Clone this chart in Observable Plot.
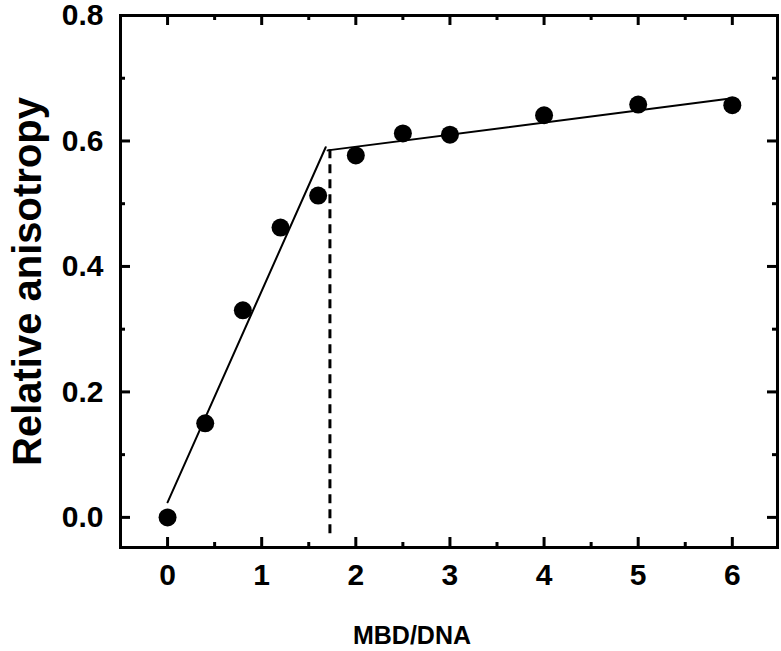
<!DOCTYPE html>
<html>
<head>
<meta charset="utf-8">
<script src="https://cdn.jsdelivr.net/npm/d3@7"></script>
<script src="https://cdn.jsdelivr.net/npm/@observablehq/plot@0.6"></script>
<style>
  body { margin: 0; background: #fff; }
</style>
</head>
<body>
<div id="chart"></div>
<script>
// Data
const ratio = [0, 0.4, 0.8, 1.2, 1.6, 2, 2.5, 3, 4, 5, 6];
const anisotropy = [0.0, 0.15, 0.33, 0.462, 0.513, 0.577, 0.612, 0.61, 0.641, 0.658, 0.657];
const fit1X = [0, 1.68];
const fit1Y = [0.024, 0.59];
const fit2X = [1.70, 6];
const fit2Y = [0.585, 0.668];
const breakX = [1.725];
const breakY = [0.586];
const xMajor = [0, 1, 2, 3, 4, 5, 6];
const xMinor = [0.5, 1.5, 2.5, 3.5, 4.5, 5.5];
const yMajor = [0, 0.2, 0.4, 0.6, 0.8];
const yMinor = [0.1, 0.3, 0.5, 0.7];
const xLabel = "MBD/DNA";
const yLabel = "Relative anisotropy";

const xDomain = [-0.5, 6.48];
const yDomain = [-0.048, 0.8];

const W = 781, H = 651;
const mL = 120, mR = 4, mT = 15, mB = 104;
const fw = W - mL - mR, fh = H - mT - mB;
const MAJ = 10, MIN = 5;

const points = ratio.map((x, i) => ({x, y: anisotropy[i]}));
const fit1 = fit1X.map((x, i) => ({x, y: fit1Y[i]}));
const fit2 = fit2X.map((x, i) => ({x, y: fit2Y[i]}));
const brk = breakX.map((x, i) => ({x, y: breakY[i]}));

const tickStyle = {stroke: "#000", strokeWidth: 3};

const plot = Plot.plot({
  width: W,
  height: H,
  marginLeft: mL,
  marginRight: mR,
  marginTop: mT,
  marginBottom: mB,
  x: {domain: xDomain},
  y: {domain: yDomain},
  style: {fontFamily: "'Liberation Sans', Arial, sans-serif", fontSize: "30px", fontWeight: "bold", color: "#000", background: "#fff", overflow: "visible"},
  marks: [
    // tick labels
    Plot.axisX({ticks: xMajor, tickSize: 0, tickPadding: 16, tickFormat: d3.format("d"), label: null, fontSize: 30, fontWeight: "bold"}),
    Plot.axisY({ticks: yMajor, tickSize: 0, tickPadding: 17, tickFormat: d3.format(".1f"), label: null, fontSize: 30, fontWeight: "bold"}),
    // inward ticks: bottom/top
    Plot.ruleX(xMajor, {x: d => d, insetTop: fh - MAJ, ...tickStyle}),
    Plot.ruleX(xMinor, {x: d => d, insetTop: fh - MIN, ...tickStyle}),
    Plot.ruleX(xMajor, {x: d => d, insetBottom: fh - MAJ, ...tickStyle}),
    Plot.ruleX(xMinor, {x: d => d, insetBottom: fh - MIN, ...tickStyle}),
    // inward ticks: left/right
    Plot.ruleY(yMajor, {y: d => d, insetRight: fw - MAJ, ...tickStyle}),
    Plot.ruleY(yMinor, {y: d => d, insetRight: fw - MIN, ...tickStyle}),
    Plot.ruleY(yMajor, {y: d => d, insetLeft: fw - MAJ, ...tickStyle}),
    Plot.ruleY(yMinor, {y: d => d, insetLeft: fw - MIN, ...tickStyle}),
    // dashed break line
    Plot.ruleX(brk, {x: "x", y1: "y", y2: () => yDomain[0], stroke: "#000", strokeWidth: 3, strokeDasharray: "9,6", insetBottom: 10}),
    // fit lines
    Plot.line(fit1, {x: "x", y: "y", stroke: "#000", strokeWidth: 2}),
    Plot.line(fit2, {x: "x", y: "y", stroke: "#000", strokeWidth: 2}),
    // data points
    Plot.dot(points, {x: "x", y: "y", r: 9, fill: "#000", stroke: "none"}),
    Plot.frame({stroke: "#000", strokeWidth: 3}),
    // axis titles
    Plot.text([xLabel], {text: d => d, frameAnchor: "bottom", textAnchor: "middle", lineAnchor: "middle", dy: 88, dx: -37, fontSize: 25, fontWeight: "bold", fill: "#000"}),
    Plot.text([yLabel], {text: d => d, frameAnchor: "left", textAnchor: "middle", lineAnchor: "middle", dx: -92, rotate: -90, fontSize: 40, fontWeight: "bold", fill: "#000"})
  ]
});
document.getElementById("chart").appendChild(plot);
</script>
</body>
</html>
